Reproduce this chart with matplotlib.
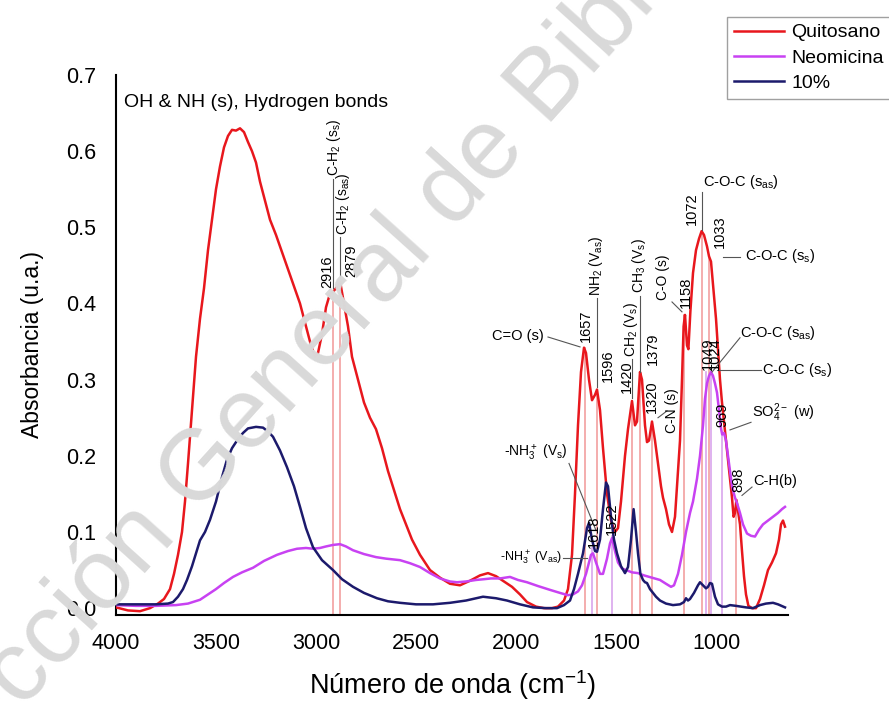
import numpy as np
import matplotlib
matplotlib.use('Agg')
import matplotlib.pyplot as plt

plt.rcParams['font.family'] = ['Liberation Sans', 'DejaVu Sans']
plt.rcParams['mathtext.default'] = 'regular'

#%% spectra (wavenumber cm-1, absorbance)
wn_quit = [4000, 3940, 3880, 3830, 3790, 3760, 3730, 3710, 3690, 3670, 3655, 3640, 3620, 3600,
           3580, 3560, 3540, 3520, 3500, 3480, 3460, 3440, 3420, 3400, 3380, 3360, 3340, 3320,
           3300, 3280, 3260, 3230, 3200, 3160, 3120, 3080, 3050, 3025, 3005, 2990, 2970, 2950,
           2930, 2916, 2900, 2879, 2860, 2840, 2820, 2790, 2760, 2730, 2700, 2670, 2640, 2610,
           2580, 2550, 2520, 2480, 2430, 2380, 2330, 2280, 2230, 2180, 2140, 2100, 2060, 2020,
           1980, 1945, 1900, 1860, 1820, 1790, 1760, 1740, 1720, 1705, 1690, 1675, 1660, 1650,
           1635, 1620, 1605, 1595, 1580, 1565, 1545, 1525, 1505, 1490, 1475, 1455, 1440, 1420,
           1405, 1395, 1380, 1370, 1355, 1345, 1335, 1320, 1305, 1290, 1275, 1265, 1250, 1235,
           1220, 1205, 1195, 1180, 1170, 1162, 1155, 1145, 1138, 1128, 1115, 1100, 1085, 1072,
           1060, 1045, 1035, 1025, 1015, 1000, 990, 980, 970, 960, 950, 940, 930, 920, 912, 905,
           898, 890, 880, 870, 860, 850, 838, 820, 800, 780, 760, 740, 720, 700, 685, 675, 665, 655]
abs_quit = [0.001, -0.003, -0.004, 0.0, 0.006, 0.012, 0.025, 0.045, 0.07, 0.10, 0.14, 0.19, 0.26, 0.33,
            0.38, 0.42, 0.47, 0.51, 0.55, 0.58, 0.605, 0.62, 0.628, 0.627, 0.63, 0.625, 0.612, 0.60,
            0.585, 0.56, 0.54, 0.51, 0.49, 0.46, 0.43, 0.40, 0.37, 0.345, 0.33, 0.335, 0.36, 0.395,
            0.413, 0.415, 0.42, 0.428, 0.40, 0.37, 0.33, 0.30, 0.27, 0.25, 0.235, 0.21, 0.18, 0.155,
            0.13, 0.11, 0.09, 0.07, 0.05, 0.04, 0.032, 0.03, 0.036, 0.043, 0.046, 0.042, 0.035, 0.028,
            0.018, 0.008, 0.002, 0.0, 0.0, 0.002, 0.01, 0.025, 0.07, 0.15, 0.24, 0.31, 0.342, 0.335,
            0.30, 0.273, 0.28, 0.287, 0.26, 0.21, 0.15, 0.115, 0.10, 0.105, 0.14, 0.20, 0.235, 0.272,
            0.24, 0.245, 0.31, 0.30, 0.24, 0.218, 0.22, 0.245, 0.22, 0.19, 0.16, 0.145, 0.13, 0.11,
            0.10, 0.12, 0.16, 0.22, 0.30, 0.37, 0.385, 0.345, 0.34, 0.39, 0.44, 0.47, 0.485, 0.495,
            0.49, 0.475, 0.462, 0.455, 0.425, 0.38, 0.34, 0.30, 0.27, 0.245, 0.22, 0.195, 0.17, 0.145, 0.12, 0.125,
            0.142, 0.128, 0.11, 0.075, 0.042, 0.018, 0.003, 0.0, 0.0, 0.012, 0.03, 0.05, 0.06, 0.072, 0.09, 0.11, 0.115, 0.107]

wn_neo = [4000, 3900, 3800, 3700, 3640, 3580, 3540, 3500, 3460, 3415, 3370, 3315, 3260, 3195,
          3140, 3095, 3050, 3015, 2980, 2950, 2915, 2880, 2850, 2815, 2760, 2700, 2650, 2580,
          2530, 2480, 2430, 2380, 2330, 2295, 2250, 2200, 2160, 2125, 2080, 2030, 1990, 1945,
          1890, 1830, 1780, 1740, 1715, 1690, 1670, 1650, 1640, 1625, 1615, 1600, 1580, 1565,
          1545, 1530, 1520, 1505, 1490, 1470, 1450, 1420, 1390, 1360, 1320, 1280, 1250, 1225,
          1210, 1190, 1170, 1150, 1130, 1115, 1095, 1080, 1065, 1055, 1045, 1035, 1025, 1015,
          1005, 995, 985, 975, 969, 960, 950, 935, 920, 905, 895, 880, 865, 845, 825, 805, 785,
          765, 740, 715, 690, 670, 655]
abs_neo = [0.004, 0.003, 0.003, 0.004, 0.006, 0.011, 0.018, 0.025, 0.033, 0.041, 0.047, 0.053, 0.062, 0.07,
           0.075, 0.078, 0.079, 0.078, 0.079, 0.081, 0.083, 0.084, 0.081, 0.076, 0.071, 0.067, 0.065, 0.063,
           0.059, 0.054, 0.046, 0.039, 0.035, 0.034, 0.035, 0.037, 0.038, 0.039, 0.039, 0.041, 0.037, 0.034,
           0.029, 0.024, 0.02, 0.017, 0.018, 0.022, 0.03, 0.045, 0.055, 0.07, 0.072, 0.06, 0.045, 0.045,
           0.065, 0.085, 0.092, 0.075, 0.06, 0.052, 0.05, 0.047, 0.046, 0.043, 0.04, 0.037, 0.032, 0.028,
           0.03, 0.045, 0.07, 0.10, 0.125, 0.14, 0.17, 0.20, 0.24, 0.275, 0.295, 0.305, 0.31, 0.305,
           0.295, 0.283, 0.26, 0.236, 0.228, 0.23, 0.22, 0.19, 0.16, 0.145, 0.138, 0.125, 0.11, 0.098, 0.095, 0.094, 0.103,
           0.11, 0.115, 0.12, 0.125, 0.13, 0.133]

wn_10 = [4000, 3900, 3800, 3740, 3715, 3690, 3665, 3645, 3620, 3600, 3580, 3555, 3530, 3500,
         3470, 3445, 3420, 3390, 3365, 3340, 3300, 3265, 3240, 3215, 3180, 3145, 3110, 3080,
         3050, 3015, 2970, 2915, 2870, 2815, 2760, 2695, 2640, 2580, 2500, 2415, 2330, 2250,
         2165, 2100, 2045, 1980, 1915, 1850, 1795, 1760, 1730, 1710, 1690, 1665, 1645, 1635,
         1620, 1605, 1595, 1580, 1565, 1550, 1540, 1525, 1510, 1495, 1475, 1455, 1440, 1425,
         1412, 1400, 1390, 1378, 1365, 1355, 1345, 1330, 1300, 1280, 1250, 1215, 1180, 1160,
         1150, 1140, 1130, 1110, 1090, 1080, 1065, 1050, 1040, 1030, 1020, 1005, 990, 970, 950,
         930, 900, 850, 815, 780, 750, 715, 690, 655]
abs_10 = [0.005, 0.005, 0.005, 0.006, 0.008, 0.015, 0.025, 0.037, 0.055, 0.072, 0.089, 0.10, 0.116, 0.14,
          0.172, 0.195, 0.21, 0.222, 0.23, 0.236, 0.238, 0.237, 0.232, 0.225, 0.207, 0.185, 0.16, 0.133,
          0.105, 0.08, 0.063, 0.05, 0.038, 0.028, 0.02, 0.013, 0.009, 0.007, 0.005, 0.005, 0.007, 0.01,
          0.015, 0.013, 0.01, 0.005, 0.001, 0.0, 0.0, 0.004, 0.01, 0.025, 0.045, 0.072, 0.105, 0.112,
          0.09, 0.075, 0.074, 0.09, 0.13, 0.165, 0.16, 0.12, 0.09, 0.072, 0.055, 0.046, 0.054, 0.09,
          0.13, 0.10, 0.072, 0.045, 0.037, 0.034, 0.033, 0.025, 0.015, 0.01, 0.006, 0.004, 0.005, 0.008,
          0.013, 0.01, 0.012, 0.02, 0.03, 0.034, 0.03, 0.026, 0.028, 0.033, 0.032, 0.015, 0.005, 0.002, 0.002,
          0.004, 0.003, 0.001, 0.0, 0.004, 0.006, 0.007, 0.005, 0.001]

# marked bands
peaks_red = [2916, 2879, 1657, 1596, 1420, 1379, 1320, 1158, 1072, 1033, 898]
peaks_red_top = [0.415, 0.428, 0.342, 0.287, 0.272, 0.31, 0.245, 0.385, 0.495, 0.462, 0.142]
peaks_purple = [1618, 1522, 1049, 1024, 969]
peaks_purple_top = [0.079, 0.095, 0.31, 0.31, 0.228]

# rotated band numbers: text, x, bottom y
num_labels = [('2916', 2945, 0.42), ('2879', 2822, 0.435), ('1657', 1650, 0.35),
              ('1596', 1540, 0.297), ('1420', 1445, 0.283), ('1379', 1315, 0.319),
              ('1320', 1320, 0.256), ('1158', 1150, 0.394), ('1072', 1120, 0.503),
              ('1033', 980, 0.473), ('1049', 1040, 0.313), ('1024', 1005, 0.313),
              ('969', 970, 0.238), ('898', 890, 0.152), ('1618', 1610, 0.079),
              ('1522', 1520, 0.096)]
# rotated assignments
rot_labels = [('C-H$_2$ (s$_s$)', 2910, 0.567), ('C-H$_2$ (s$_{as}$)', 2865, 0.49),
              ('NH$_2$ (V$_{as}$)', 1600, 0.41), ('CH$_2$ (V$_s$)', 1425, 0.33),
              ('CH$_3$ (V$_s$)', 1385, 0.414), ('C-O (s)', 1265, 0.405),
              ('C-N (s)', 1220, 0.23)]
# horizontal assignments: text, x, y, anchor, size
hor_labels = [('C-O-C (s$_{as}$)', 1065, 0.56, 'left', 10.5),
              ('C-O-C (s$_s$)', 855, 0.463, 'left', 10.5),
              ('C=O (s)', 1860, 0.357, 'right', 10.5),
              ('C-O-C (s$_{as}$)', 880, 0.361, 'left', 10.5),
              ('C-O-C (s$_s$)', 770, 0.313, 'left', 10.5),
              ('SO$_4^{2-}$ (w)', 820, 0.256, 'left', 10.5),
              ('C-H(b)', 815, 0.167, 'left', 10.5),
              ('-NH$_3^+$ (V$_s$)', 1740, 0.204, 'right', 10),
              ('-NH$_3^+$ (V$_{as}$)', 1770, 0.066, 'right', 9)]
leaders = [(2916, 0.42, 2916, 0.563), (2879, 0.432, 2879, 0.487), (1070, 0.497, 1070, 0.547),
           (965, 0.461, 880, 0.461), (1220, 0.402, 1170, 0.389), (1840, 0.356, 1680, 0.343),
           (1596, 0.29, 1596, 0.407), (1420, 0.276, 1420, 0.327), (1379, 0.31, 1379, 0.41),
           (1290, 0.25, 1245, 0.259), (880, 0.355, 1020, 0.31), (995, 0.313, 775, 0.313),
           (930, 0.234, 825, 0.244), (870, 0.148, 820, 0.159), (1735, 0.19, 1600, 0.102),
           (1765, 0.066, 1645, 0.066)]

#%%
fig = plt.figure(figsize=(8.89, 7.04), dpi=100)
fig.text(365/889, 1-290/704, 'Dirección General de Bibliotecas', rotation=48,
         fontsize=72, color='#d9d9d9', ha='center', va='center', rotation_mode='anchor', zorder=0)
ax = fig.add_axes([116/889, 1-615/704, 672/889, 540/704])
ax.patch.set_alpha(0)

for w, top in zip(peaks_red, peaks_red_top):
    ax.plot([w, w], [-0.009, top], color='#f2a0a0', lw=1.2, zorder=1)
for w, top in zip(peaks_purple, peaks_purple_top):
    ax.plot([w, w], [-0.009, top], color='#d9a6ec', lw=1.2, zorder=1)

l1, = ax.plot(wn_quit, abs_quit, color='#e8171d', lw=1.8, zorder=3)
l2, = ax.plot(wn_neo, abs_neo, color='#c842f2', lw=1.8, zorder=3)
l3, = ax.plot(wn_10, abs_10, color='#1c1a6c', lw=1.8, zorder=4)

for x1, y1, x2, y2 in leaders:
    ax.plot([x1, x2], [y1, y2], color='#555555', lw=0.8, zorder=5)
for t, x, y in num_labels:
    ax.text(x, y, t, rotation=90, ha='center', va='bottom', fontsize=10.5, zorder=6)
for t, x, y in rot_labels:
    ax.text(x, y, t, rotation=90, ha='center', va='bottom', fontsize=10, zorder=6)
for t, x, y, ha, fs in hor_labels:
    ax.text(x, y, t, ha=ha, va='center', fontsize=fs, zorder=6)
ax.text(3960, 0.664, 'OH & NH (s), Hydrogen bonds', ha='left', va='center', fontsize=14)

ax.set_xlim(4000, 640)
ax.set_ylim(-0.009, 0.7)
ax.set_xticks([4000, 3500, 3000, 2500, 2000, 1500, 1000])
ax.set_yticks(np.arange(0, 0.71, 0.1))
ax.set_yticklabels(['%.1f' % v for v in np.arange(0, 0.71, 0.1)])
ax.tick_params(length=0, labelsize=15.5)
ax.tick_params(axis='x', pad=13)
ax.tick_params(axis='y', pad=14)
for s in ['top', 'right']:
    ax.spines[s].set_visible(False)
for s in ['left', 'bottom']:
    ax.spines[s].set_linewidth(1.5)
ax.set_xlabel('Número de onda (cm$^{-1}$)', fontsize=19.5, labelpad=10)
ax.set_ylabel('Absorbancia (u.a.)', fontsize=16.5, labelpad=16)

fig.legend([l1, l2, l3], ['Quitosano', 'Neomicina', '10%'], loc='upper left',
           bbox_to_anchor=(727/889, 1-17/704), fontsize=14, frameon=True, fancybox=False,
           edgecolor='#888888', borderpad=0.35, handlelength=2.6, handletextpad=0.35,
           labelspacing=0.4, borderaxespad=0)

fig.savefig('out.png', dpi=100)
